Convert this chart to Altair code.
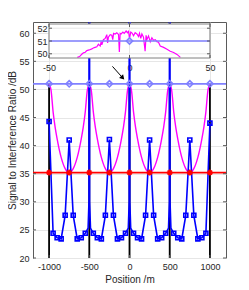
import altair as alt
import pandas as pd

# ---------------- data ----------------
x_ticks = [-1000, -500, 0, 500, 1000]
y_ticks = [20, 25, 30, 35, 40, 45, 50, 55, 60]

# black vertical lines at base-station positions
bs_x = [-1000, -500, 0, 500, 1000]
bs_y0 = [20, 20, 20, 20, 20]
bs_y1 = [51, 51, 51, 51, 51]

# magenta curve
mag_x = [-1000, -987.5, -975, -950, -925, -900, -850, -800, -775, -750, -725, -700, -650, -600, -575, -550, -525, -512.5,
         -500, -487.5, -475, -450, -425, -400, -350, -300, -275, -250, -225, -200, -150, -100, -75, -50, -25, -12.5,
         0, 12.5, 25, 50, 75, 100, 150, 200, 225, 250, 275, 300, 350, 400, 425, 450, 475, 487.5,
         500, 512.5, 525, 550, 575, 600, 650, 700, 725, 750, 775, 800, 850, 900, 925, 950, 975, 987.5,
         1000]
mag_y = [51.0, 50.6, 49.8, 46.0, 43.3, 41.2, 37.9, 35.9, 35.4, 35.2, 35.4, 35.9, 37.9, 41.2, 43.3, 46.0, 49.8, 50.6,
         51.0, 50.6, 49.8, 46.0, 43.3, 41.2, 37.9, 35.9, 35.4, 35.2, 35.4, 35.9, 37.9, 41.2, 43.3, 46.0, 49.8, 50.6,
         51.0, 50.6, 49.8, 46.0, 43.3, 41.2, 37.9, 35.9, 35.4, 35.2, 35.4, 35.9, 37.9, 41.2, 43.3, 46.0, 49.8, 50.6,
         51.0, 50.6, 49.8, 46.0, 43.3, 41.2, 37.9, 35.9, 35.4, 35.2, 35.4, 35.9, 37.9, 41.2, 43.3, 46.0, 49.8, 50.6,
         51.0]

# blue curve (line)
blue_x = [-1000, -950, -900, -850, -800, -750, -700, -650, -600, -550, -515, -504, -500, -496, -485,
          -450, -400, -350, -300, -250, -200, -150, -100, -50, -15, -4, 0, 4, 15,
          50, 100, 150, 200, 250, 300, 350, 400, 450, 485, 496, 500, 504, 515,
          550, 600, 650, 700, 750, 800, 850, 900, 950, 1000]
blue_y = [44.3, 24.4, 23.6, 23.4, 27.6, 41.0, 27.6, 23.4, 23.6, 24.4, 25.3, 30.0, 300, 30.0, 25.3,
          24.4, 23.6, 23.4, 27.6, 41.1, 27.6, 23.4, 23.6, 24.4, 25.3, 30.0, 300, 30.0, 25.3,
          24.4, 23.6, 23.4, 27.6, 41.0, 27.6, 23.4, 23.6, 24.4, 25.3, 30.0, 300, 30.0, 25.3,
          24.4, 23.6, 23.4, 27.6, 41.0, 27.6, 23.4, 23.6, 24.4, 44.0]
# blue square markers
blue_mx = [-1000, -950, -900, -850, -800, -750, -700, -650, -600, -550,
           -450, -400, -350, -300, -250, -200, -150, -100, -50,
           50, 100, 150, 200, 250, 300, 350, 400, 450,
           550, 600, 650, 700, 750, 800, 850, 900, 950, 1000]
blue_my = [44.3, 24.4, 23.6, 23.4, 27.6, 41.0, 27.6, 23.4, 23.6, 24.4,
           24.4, 23.6, 23.4, 27.6, 41.1, 27.6, 23.4, 23.6, 24.4,
           24.4, 23.6, 23.4, 27.6, 41.0, 27.6, 23.4, 23.6, 24.4,
           24.4, 23.6, 23.4, 27.6, 41.0, 27.6, 23.4, 23.6, 24.4, 44.0]

# red constant line with star markers
red_line_x = [-1200, 1200]
red_line_y = [35.2, 35.2]
red_mx = [-1000, -750, -500, -250, 0, 250, 500, 750, 1000]
red_my = [35.2, 35.2, 35.2, 35.2, 35.2, 35.2, 35.2, 35.2, 35.2]

# light blue constant line with diamond markers
lb_line_x = [-1200, 1200]
lb_line_y = [51.0, 51.0]
lb_mx = [-1000, -750, -500, -250, 0, 250, 500, 750, 1000]
lb_my = [51.0, 51.0, 51.0, 51.0, 51.0, 51.0, 51.0, 51.0, 51.0]

# arrow annotation
arrow_x = [-212, -85]
arrow_y = [54.1, 52.06]

# inset
in_x_ticks = [-50, 0, 50]
in_y_ticks = [50, 51, 52]
in_mag_x = [-32.4, -31, -29.5, -28.6, -27.5, -26.5, -25, -23.4, -22.5, -21.4, -20.3, -19.3, -18.2, -17.6,
            -17.2, -16.2, -15.1, -14.1, -13.6, -13.1, -12.0, -11.0, -10.4, -9.9, -8.9, -7.9, -6.8, -6.3,
            -5.8, -5.2, -4.1, -3.3, -2.1, -1.2, -0.6, 0, 0.8, 1.6, 2.5, 3.5, 4.6, 5.6, 6.2, 7.0, 7.7,
            8.7, 9.7, 10.3, 10.8, 11.8, 12.9, 13.9, 14.9, 16.0, 17.0, 18.0, 19.1, 21.2, 23.3, 25.3,
            27.4, 29.5, 31.6]
in_mag_y = [49.72, 49.78, 49.98, 50.07, 50.12, 50.25, 50.3, 50.38, 50.45, 50.5, 50.55, 50.75, 50.6, 50.95,
            50.7, 51.1, 51.2, 51.5, 50.85, 51.3, 51.5, 51.45, 51.1, 51.6, 51.55, 51.65, 51.5, 50.15,
            51.6, 51.55, 51.7, 51.6, 51.78, 51.65, 51.75, 51.2, 51.7, 51.62, 51.41, 51.65, 51.55, 51.35,
            51.6, 51.2, 51.55, 51.3, 50.2, 51.45, 51.1, 51.4, 50.95, 51.25, 51.05, 51.1, 50.95, 50.9,
            50.6, 50.5, 50.35, 50.2, 50.1, 49.95, 49.72]
in_lb_x = [-50, 50]
in_lb_y = [51.0, 51.0]
in_lb_mx = [0]
in_lb_my = [51.0]
in_box = {"x": [-50], "x2": [50], "y": [49.67], "y2": [52.33]}

# ---------------- chart ----------------
FONT = "Liberation Sans"
W, H = 193, 236
TXT = "#262626"
FRAME = "#5a5a5a"
GRID = "#e6e6e6"
neg_expr = "datum.value < 0 ? '-' + format(-datum.value, 'd') : format(datum.value, 'd')"

xs = alt.Scale(domain=[-1200, 1200], nice=False, zero=False)
ys = alt.Scale(domain=[20, 62], nice=False, zero=False)
X = alt.X("x:Q", scale=xs, axis=alt.Axis(values=x_ticks, title="Position /m", grid=True, gridColor=GRID,
                                         domain=False, ticks=False, tickSize=0, labelPadding=4, titlePadding=3,
                                         labelFlush=False, labelExpr=neg_expr))
Y = alt.Y("y:Q", scale=ys, axis=alt.Axis(values=y_ticks, title="Signal to Interference Ratio /dB", grid=True,
                                         gridColor=GRID, domain=False, ticks=False, tickSize=0, labelPadding=4,
                                         titlePadding=1))

df_bs = pd.DataFrame({"x": bs_x, "y": bs_y0, "y2": bs_y1})
df_mag = pd.DataFrame({"x": mag_x, "y": mag_y})
df_blue = pd.DataFrame({"x": blue_x, "y": blue_y})
df_bluem = pd.DataFrame({"x": blue_mx, "y": blue_my})
df_red = pd.DataFrame({"x": red_line_x, "y": red_line_y})
df_redm = pd.DataFrame({"x": red_mx, "y": red_my})
df_lb = pd.DataFrame({"x": lb_line_x, "y": lb_line_y})
df_lbm = pd.DataFrame({"x": lb_mx, "y": lb_my})
df_arrow = pd.DataFrame({"x": arrow_x, "y": arrow_y})
df_head = pd.DataFrame({"x": arrow_x[1:], "y": arrow_y[1:]})
df_xt = pd.DataFrame({"x": x_ticks})
df_yt = pd.DataFrame({"y": y_ticks})

asterisk = "M-1,0L1,0M0,-1L0,1M-0.7,-0.7L0.7,0.7M-0.7,0.7L0.7,-0.7"

black = alt.Chart(df_bs).mark_rule(color="black", strokeWidth=1.8).encode(x=X, y=Y, y2="y2:Q")
mag = alt.Chart(df_mag).mark_line(color="#ff00ff", strokeWidth=1.4, interpolate="monotone", clip=True).encode(x=X, y=Y)
blue = alt.Chart(df_blue).mark_line(color="#0000ff", strokeWidth=1.6, clip=True).encode(x=X, y=Y)
bluem = alt.Chart(df_bluem).mark_point(shape="square", filled=False, color="#0000ff", strokeWidth=1.6,
                                       size=16, opacity=1, clip=True).encode(x=X, y=Y)
red = alt.Chart(df_red).mark_line(color="#ff0000", strokeWidth=1.8).encode(x=X, y=Y)
redm = alt.Chart(df_redm).mark_point(shape=asterisk, filled=False, color="#ff0000", strokeWidth=1.6,
                                     size=36, opacity=1).encode(x=X, y=Y)
lb = alt.Chart(df_lb).mark_line(color="#8080ff", strokeWidth=1.8).encode(x=X, y=Y)
lbm = alt.Chart(df_lbm).mark_point(shape="diamond", filled=False, color="#8080ff", strokeWidth=1.6,
                                   size=40, opacity=1).encode(x=X, y=Y)
arrow = alt.Chart(df_arrow).mark_line(color="black", strokeWidth=1).encode(x=X, y=Y)
head = alt.Chart(df_head).mark_point(shape="triangle-right", filled=True, color="black", size=30, angle=48,
                                     opacity=1).encode(x=X, y=Y)

tb = alt.Chart(df_xt).mark_rule(color=FRAME).encode(x=X, y=alt.value(H), y2=alt.value(H - 3))
tt = alt.Chart(df_xt).mark_rule(color=FRAME).encode(x=X, y=alt.value(0), y2=alt.value(3))
tl = alt.Chart(df_yt).mark_rule(color=FRAME).encode(y=Y, x=alt.value(0), x2=alt.value(3))
tr = alt.Chart(df_yt).mark_rule(color=FRAME).encode(y=Y, x=alt.value(W - 3), x2=alt.value(W))

main = alt.layer(black, mag, blue, bluem, red, redm, lb, lbm, arrow, head, tb, tt, tl, tr)

# inset
XI = alt.X("x:Q", scale=alt.Scale(domain=[-50, 50], range=[16, 177], nice=False, zero=False),
           axis=alt.Axis(orient="bottom", offset=-200, values=in_x_ticks, title=None, grid=False, domain=False,
                         ticks=False, tickSize=0, labelFlush=False, labelOverlap=False, labelPadding=5,
                         labelExpr=neg_expr))
YI = alt.Y("y:Q", scale=alt.Scale(domain=[49.67, 52.33], range=[36, 2], nice=False, zero=False),
           axis=alt.Axis(orient="left", offset=-16, values=in_y_ticks, title=None, grid=False, domain=False,
                         ticks=False, tickSize=0, labelPadding=2, labelOverlap=False, labelFlush=False))

df_box = pd.DataFrame(in_box)
df_igy = pd.DataFrame({"y": in_y_ticks, "x": [-50] * 3, "x2": [50] * 3})
df_igx = pd.DataFrame({"x": in_x_ticks, "y": [49.67] * 3, "y2": [52.33] * 3})
df_imag = pd.DataFrame({"x": in_mag_x, "y": in_mag_y})
df_ilb = pd.DataFrame({"x": in_lb_x, "y": in_lb_y})
df_ilbm = pd.DataFrame({"x": in_lb_mx, "y": in_lb_my})
df_ixt = pd.DataFrame({"x": in_x_ticks})
df_iyt = pd.DataFrame({"y": in_y_ticks})

box_fill = alt.Chart(df_box).mark_rect(fill="white").encode(x=XI, x2="x2:Q", y=YI, y2="y2:Q")
igy = alt.Chart(df_igy).mark_rule(color=GRID).encode(x=XI, x2="x2:Q", y=YI)
igx = alt.Chart(df_igx).mark_rule(color=GRID).encode(x=XI, y=YI, y2="y2:Q")
imag = alt.Chart(df_imag).mark_line(color="#ff00ff", strokeWidth=1.2, clip=True).encode(x=XI, y=YI)
ilb = alt.Chart(df_ilb).mark_line(color="#8080ff", strokeWidth=1.6).encode(x=XI, y=YI)
ilbm = alt.Chart(df_ilbm).mark_point(shape="diamond", filled=False, color="#8080ff", strokeWidth=1.6,
                                     size=40, opacity=1).encode(x=XI, y=YI)
box_line = alt.Chart(df_box).mark_rect(fill=None, stroke="#808080", strokeWidth=1).encode(
    x=XI, x2="x2:Q", y=YI, y2="y2:Q")
itl = alt.Chart(df_iyt).mark_rule(color=FRAME).encode(y=YI, x=alt.value(16), x2=alt.value(19))
itr = alt.Chart(df_iyt).mark_rule(color=FRAME).encode(y=YI, x=alt.value(174), x2=alt.value(177))
itb = alt.Chart(df_ixt).mark_rule(color=FRAME).encode(x=XI, y=alt.value(36), y2=alt.value(33))
itt = alt.Chart(df_ixt).mark_rule(color=FRAME).encode(x=XI, y=alt.value(2), y2=alt.value(5))

inset = alt.layer(box_fill, igy, igx, imag, ilb, ilbm, box_line, itl, itr, itb, itt)

chart = alt.layer(main, inset).resolve_scale(x="independent", y="independent").properties(
    width=W, height=H, autosize="none",
    padding={"left": 25, "top": 14, "right": 10, "bottom": 28},
).configure_view(stroke=FRAME, strokeWidth=1).configure_axis(
    labelFont=FONT, titleFont=FONT, labelFontSize=9, titleFontSize=10,
    labelColor=TXT, titleColor=TXT, titleFontWeight="normal",
)

chart.save("out.html", embed_options={"renderer": "svg", "actions": False})
